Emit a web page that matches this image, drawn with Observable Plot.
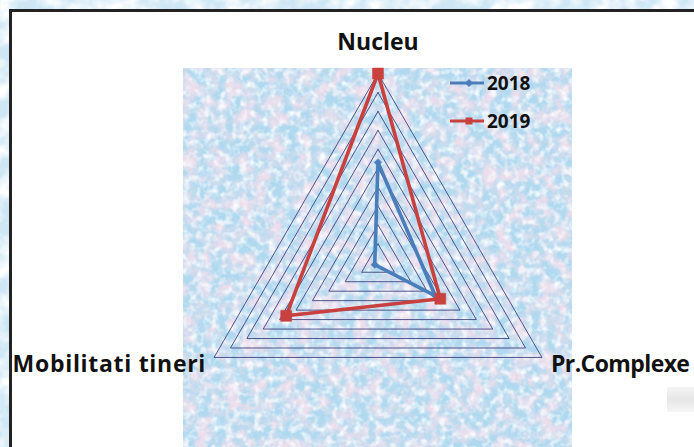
<!DOCTYPE html>
<html>
<head>
<meta charset="utf-8">
<script src="https://cdn.jsdelivr.net/npm/d3@7"></script>
<script src="https://cdn.jsdelivr.net/npm/@observablehq/plot@0.6"></script>
<style>
  html, body { margin: 0; padding: 0; }
  body { width: 694px; height: 447px; overflow: hidden; position: relative; background: #dcedf7; font-family: "Open Sans", sans-serif; }
  .abs { position: absolute; }
  #frame { left: 9px; top: 9px; width: 720px; height: 480px; border: 3px solid #222; background: #fff; box-sizing: border-box; }
  #legend { left: 450px; top: 70px; font: bold 19px "Open Sans", sans-serif; color: #111; }
  #legend .row { display: flex; align-items: center; height: 25px; margin-bottom: 13px; }
  #legend svg { margin-right: 3px; }
  #plot svg text { font-family: "Open Sans", sans-serif; }
</style>
</head>
<body>
<svg class="abs" style="left:0;top:0" width="694" height="447">
  <defs>
    <filter id="outerN" x="0" y="0" width="100%" height="100%">
      <feTurbulence type="fractalNoise" baseFrequency="0.05" numOctaves="3" seed="11"/>
      <feColorMatrix type="matrix" values="0 0 0 0 1  0 0 0 0 1  0 0 0 0 1  2.5 0 0 0 -0.9"/>
    </filter>
  </defs>
  <rect width="694" height="447" fill="#cfe7f5"/>
  <rect width="694" height="447" filter="url(#outerN)"/>
</svg>
<div id="frame" class="abs"></div>
<div class="abs" style="left:667px;top:387px;width:27px;height:25px;background:linear-gradient(to bottom,#f4f4f4,#e6e6e6,#f6f6f6);"></div>
<svg class="abs" style="left:183px;top:68px" width="389" height="379">
  <defs>
    <filter id="pinkN" x="0" y="0" width="100%" height="100%">
      <feTurbulence type="fractalNoise" baseFrequency="0.07" numOctaves="4" seed="3"/>
      <feColorMatrix type="matrix" values="0 0 0 0 0.85  0 0 0 0 0.73  0 0 0 0 0.84  2.6 0 0 0 -0.95"/>
    </filter>
    <filter id="whiteN" x="0" y="0" width="100%" height="100%">
      <feTurbulence type="fractalNoise" baseFrequency="0.14" numOctaves="2" seed="7"/>
      <feColorMatrix type="matrix" values="0 0 0 0 0.96  0 0 0 0 0.98  0 0 0 0 1  0 2.4 0 0 -1.05"/>
    </filter>
  </defs>
  <rect width="389" height="379" fill="#b0d9ef"/>
  <rect width="389" height="379" filter="url(#pinkN)"/>
  <rect width="389" height="379" filter="url(#whiteN)"/>
</svg>
<div id="plot" class="abs" style="left:0;top:0"></div>
<div id="legend" class="abs"></div>
<script>
// ---- data ----
const categories = ["Nucleu", "Pr.Complexe", "Mobilitati tineri"];
const series = ["2018", "2019"];
const values2018 = [53, 35, 2];
const values2019 = [100, 38, 56];
const gridLevels = [10, 20, 30, 40, 50, 60, 70, 80, 90, 100];
const maxValue = 100;

// ---- layout ----
const W = 694, H = 447;
const cx = 377.5, cy = 262.3, R = 189.3;
const colors = {"2018": "#4a7ebb", "2019": "#c8413e"};

const angleOf = i => Math.PI / 2 - i * 2 * Math.PI / categories.length;
const pt = (v, i) => ({x: (v / maxValue) * Math.cos(angleOf(i)), y: (v / maxValue) * Math.sin(angleOf(i))});

const gridData = [];
for (const L of gridLevels) {
  for (let k = 0; k <= categories.length; k++) {
    const i = k % categories.length;
    gridData.push({level: L, ...pt(L, i)});
  }
}
const valuesBy = {"2018": values2018, "2019": values2019};
const seriesData = {};
for (const s of series) {
  seriesData[s] = [];
  for (let k = 0; k <= categories.length; k++) {
    const i = k % categories.length;
    seriesData[s].push({series: s, cat: categories[i], value: valuesBy[s][i], closing: k === categories.length, ...pt(valuesBy[s][i], i)});
  }
}
const labelData = categories.map((c, i) => ({cat: c, ...pt(maxValue, i)}));

const chart = Plot.plot({
  width: W, height: H,
  marginLeft: 0, marginRight: 0, marginTop: 0, marginBottom: 0,
  style: {background: "transparent", overflow: "visible"},
  x: {domain: [-cx / R, (W - cx) / R], axis: null},
  y: {domain: [-(H - cy) / R, cy / R], axis: null},
  marks: [
    Plot.line(gridData, {x: "x", y: "y", z: "level", stroke: "#44447f", strokeWidth: 1, strokeOpacity: 0.9}),
    Plot.line(seriesData["2018"], {x: "x", y: "y", stroke: colors["2018"], strokeWidth: 3.6, strokeLinejoin: "round"}),
    Plot.dot(seriesData["2018"].filter(d => !d.closing), {x: "x", y: "y", symbol: "diamond2", r: 3.4, fill: colors["2018"], stroke: colors["2018"], strokeWidth: 0.5}),
    Plot.line(seriesData["2019"], {x: "x", y: "y", stroke: colors["2019"], strokeWidth: 3.6, strokeLinejoin: "round"}),
    Plot.dot(seriesData["2019"].filter(d => !d.closing), {x: "x", y: "y", symbol: "square", r: 6.2, fill: colors["2019"], stroke: colors["2019"], strokeWidth: 0.5}),
    Plot.text([labelData[0]], {x: "x", y: "y", text: "cat", dy: -31, fontSize: 23, fontWeight: "bold", fill: "#111", textAnchor: "middle"}),
    Plot.text([labelData[1]], {x: "x", y: "y", text: "cat", dx: 9, dy: 7, fontSize: 23, fontWeight: "bold", fill: "#111", textAnchor: "start"}),
    Plot.text([labelData[2]], {x: "x", y: "y", text: "cat", dx: -8, dy: 7, fontSize: 23, fontWeight: "bold", fill: "#111", textAnchor: "end"})
  ]
});
document.getElementById("plot").appendChild(chart);
d3.select(chart).selectAll("text").filter(function() { return this.textContent === "Mobilitati tineri"; })
  .style("letter-spacing", "0.7px");
d3.select(chart).selectAll("text").filter(function() { return this.textContent === "Pr.Complexe"; })
  .style("letter-spacing", "-0.6px");

// legend
const legend = document.getElementById("legend");
for (const s of series) {
  const row = document.createElement("div");
  row.className = "row";
  const marker = s === "2018"
    ? `<polygon points="19,-4 23,0 19,4 15,0" fill="${colors[s]}"/>`
    : `<rect x="15.5" y="-3.5" width="7" height="7" fill="${colors[s]}"/>`;
  row.innerHTML = `<svg width="34" height="12" viewBox="0 -6 34 12" style="overflow:visible"><line x1="0" y1="0" x2="34" y2="0" stroke="${colors[s]}" stroke-width="3"/>${marker}</svg><span>${s}</span>`;
  legend.appendChild(row);
}
</script>
</body>
</html>
